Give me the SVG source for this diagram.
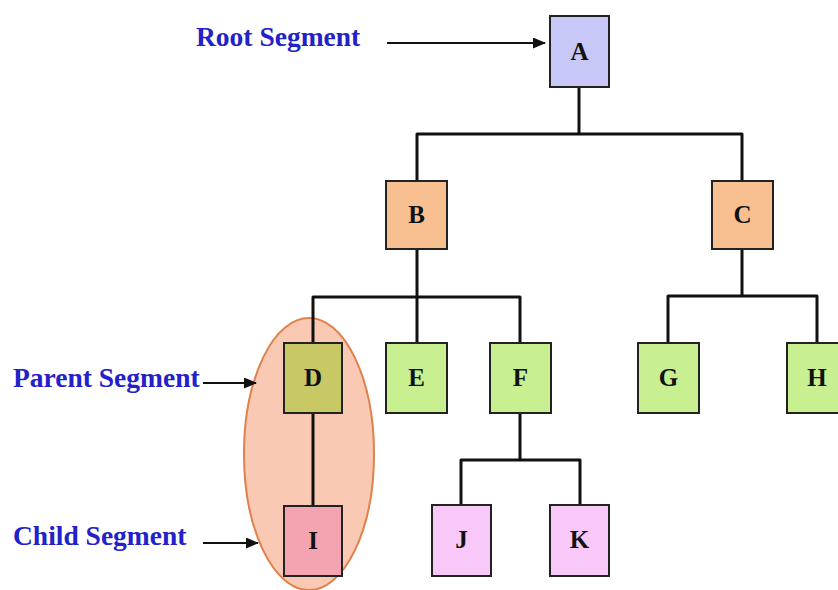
<svg xmlns="http://www.w3.org/2000/svg" width="838" height="590" viewBox="0 0 838 590">
<style>
.lbl{font-family:"Liberation Serif","Times New Roman",serif;font-weight:bold;font-size:27.5px;fill:#2222c8}
.box{stroke:#222;stroke-width:2}
.nt{font-family:"Liberation Serif","Times New Roman",serif;font-weight:bold;font-size:25px;fill:#111;text-anchor:middle}
.con{fill:none;stroke:#111;stroke-width:3;stroke-linejoin:round}
.arr{fill:none;stroke:#111;stroke-width:2}
</style>
<defs>
<marker id="ah" markerWidth="13" markerHeight="11" refX="12" refY="5.5" orient="auto" markerUnits="userSpaceOnUse">
<path d="M0,0 L13,5.5 L0,11 Z" fill="#111"/>
</marker>
</defs>
<rect width="838" height="590" fill="#fff"/>
<ellipse id="group-ellipse" cx="309" cy="454" rx="65" ry="136" fill="#f9c9b4" stroke="#e0804a" stroke-width="2"/>
<g id="labels">
<text class="lbl" x="196" y="46">Root Segment</text>
<text class="lbl" x="13" y="387">Parent Segment</text>
<text class="lbl" x="13" y="545">Child Segment</text>
<line class="arr" x1="387" y1="43" x2="545" y2="43" marker-end="url(#ah)"/>
<line class="arr" x1="203" y1="383" x2="256" y2="383" marker-end="url(#ah)"/>
<line class="arr" x1="203" y1="543" x2="258" y2="543" marker-end="url(#ah)"/>
</g>
<g id="connectors">
<path class="con" d="M579,87 V134 M417,181 V134 H742 V181"/>
<path class="con" d="M417,249 V297 M313,343 V297 H520 V343 M417,297 V343"/>
<path class="con" d="M742,249 V296 M668,343 V296 H817 V343"/>
<path class="con" d="M313,413 V506"/>
<path class="con" d="M520,413 V460 M461,505 V460 H580 V505"/>
</g>
<g id="node-A"><rect class="box" x="550" y="16" width="59" height="71" fill="#c8c8f8"/><text class="nt" x="579.5" y="60">A</text></g>
<g id="node-B"><rect class="box" x="386" y="181" width="61" height="68" fill="#f8c090"/><text class="nt" x="416.5" y="223">B</text></g>
<g id="node-C"><rect class="box" x="712" y="181" width="61" height="68" fill="#f8c090"/><text class="nt" x="742.5" y="223">C</text></g>
<g id="node-D"><rect class="box" x="284" y="343" width="58" height="70" fill="#c8c864"/><text class="nt" x="313" y="386">D</text></g>
<g id="node-E"><rect class="box" x="386" y="343" width="61" height="70" fill="#c8f090"/><text class="nt" x="416.5" y="386">E</text></g>
<g id="node-F"><rect class="box" x="490" y="343" width="61" height="70" fill="#c8f090"/><text class="nt" x="520.5" y="386">F</text></g>
<g id="node-G"><rect class="box" x="638" y="343" width="61" height="70" fill="#c8f090"/><text class="nt" x="668.5" y="386">G</text></g>
<g id="node-H"><rect class="box" x="787" y="343" width="61" height="70" fill="#c8f090"/><text class="nt" x="817" y="386">H</text></g>
<g id="node-I"><rect class="box" x="284" y="506" width="58" height="70" fill="#f4a4b0"/><text class="nt" x="313" y="549">I</text></g>
<g id="node-J"><rect class="box" x="432" y="505" width="59" height="71" fill="#f8c8f8"/><text class="nt" x="461.5" y="548">J</text></g>
<g id="node-K"><rect class="box" x="550" y="505" width="59" height="71" fill="#f8c8f8"/><text class="nt" x="579.5" y="548">K</text></g>
</svg>
